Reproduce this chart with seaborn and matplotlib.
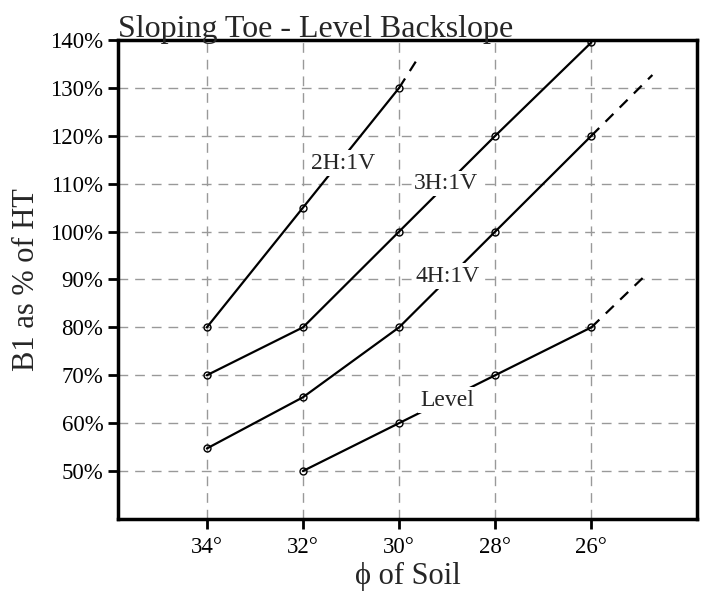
import pandas as pd
import matplotlib
matplotlib.use("Agg")
import matplotlib.pyplot as plt
import seaborn as sns
from matplotlib.ticker import FuncFormatter

# friction angle of soil (deg) and B1 as % of wall height, per toe slope
phi = [34, 32, 30, 28, 26]
slopes = ["2H:1V", "3H:1V", "4H:1V", "Level"]
b1_2h = [80, 105, 130, None, None]
b1_3h = [70, 80, 100, 120, 139.5]
b1_4h = [54.7, 65.4, 80, 100, 120]
b1_level = [None, 50, 60, 70, 80]

# dashed extrapolation beyond the last computed point
ext_slopes = ["2H:1V", "4H:1V", "Level"]
ext_phi = [[30, 29.64], [26, 24.73], [26, 24.86]]
ext_b1 = [[130, 135.7], [120, 132.7], [80, 91]]

# where the curve names sit on the chart
label_phi = [31.17, 29.03, 29.0, 29.0]
label_b1 = [114.3, 110.0, 90.7, 64.8]

rows = []
for name, vals in zip(slopes, [b1_2h, b1_3h, b1_4h, b1_level]):
    for p, v in zip(phi, vals):
        if v is not None:
            rows.append({"slope": name, "phi": p, "b1": v})
df = pd.DataFrame(rows)

sns.set_style("white")
plt.rcParams["font.family"] = ["Liberation Serif", "DejaVu Serif"]

fig = plt.figure(figsize=(7.02, 5.93), dpi=100)
ax = fig.add_axes([0.168, 0.125, 0.825, 0.8075])

sns.lineplot(data=df, x="phi", y="b1", units="slope", estimator=None,
             sort=False, color="black", lw=1.6, marker="o", ms=5,
             mfc="none", mec="black", mew=1.0, ax=ax, zorder=3)

for p, v in zip(ext_phi, ext_b1):
    ax.plot(p, v, color="black", lw=1.6, ls=(0, (5, 4)), zorder=3)

for name, x, y in zip(slopes, label_phi, label_b1):
    ax.text(x, y, name, ha="center", va="center", fontsize=17, zorder=4,
            bbox=dict(fc="white", ec="none", pad=1.5))

ax.set_xlim(35.85, 23.8)
ax.set_ylim(40, 140)
ax.set_xticks(phi)
ax.set_yticks(range(50, 141, 10))
ax.xaxis.set_major_formatter(FuncFormatter(lambda v, _: f"{int(v)}\u00b0"))
ax.yaxis.set_major_formatter(FuncFormatter(lambda v, _: f"{int(v)}%"))

ax.grid(True, color="#999999", lw=1, ls=(0, (7, 5)), zorder=0)
ax.set_axisbelow(True)
for s in ax.spines.values():
    s.set_visible(True)
    s.set_color("black")
    s.set_linewidth(2.5)
ax.tick_params(direction="out", length=7, width=2, color="black",
               labelsize=16.5, labelcolor="black", bottom=True, left=True)
ax.tick_params(axis="x", pad=6)

ax.set_xlabel("\u03d5 of Soil", fontsize=22, labelpad=3)
ax.set_ylabel("B1 as % of HT", fontsize=22, labelpad=7)
ax.set_title("Sloping Toe - Level Backslope", loc="left", fontsize=23, pad=2)

fig.savefig("out.png", dpi=100)
